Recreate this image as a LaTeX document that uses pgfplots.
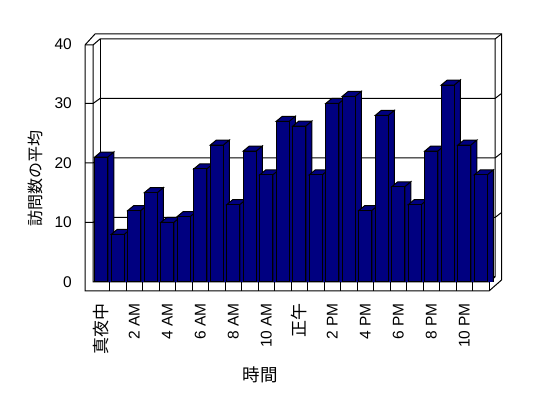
\documentclass[border=0pt]{standalone}
\usepackage{fontspec}
\setmainfont{Liberation Sans}
\newfontfamily\jp{Noto Sans CJK JP}
\usepackage{pgfplots}
\usepackage{pgfplotstable}
\pgfplotsset{compat=1.18}
\definecolor{navyb}{RGB}{0,0,128}
\pgfplotstableread{
x y
0 21
1 8
2 12
3 15
4 10
5 11
6 19
7 23
8 13
9 22
10 18
11 27
12 26.2
13 18
14 30
15 31.2
16 12
17 28
18 16
19 13
20 22
21 33.1
22 23
23 18
}\visits
% top and side faces of a 3-D column; origin = top centre of the front face
\pgfdeclareplotmark{bar3d}{%
  \pgfpathmoveto{\pgfqpoint{-6.5pt}{0pt}}%
  \pgfpathlineto{\pgfqpoint{6.5pt}{0pt}}%
  \pgfpathlineto{\pgfqpoint{12.5pt}{5pt}}%
  \pgfpathlineto{\pgfqpoint{-0.5pt}{5pt}}%
  \pgfpathclose
  \pgfpathmoveto{\pgfqpoint{6.5pt}{0pt}}%
  \pgfpathlineto{\pgfqpoint{12.5pt}{5pt}}%
  \pgfpathlineto{\pgfqpoint{12.5pt}{-400pt}}%
  \pgfpathlineto{\pgfqpoint{6.5pt}{-405pt}}%
  \pgfpathclose
  \pgfusepathqfillstroke
}
\begin{document}
\begin{tikzpicture}[line width=1pt]
\path[use as bounding box] (0,0) rectangle (548pt,398pt);
\begin{scope}[yshift=398pt, x=1pt, y=-1pt, line width=1pt]
  \foreach \v in {10,20,30} {
    \draw (85,{282-5.95*\v}) -- (93,{282-5.95*\v}) -- (100,{277-5.95*\v}) -- (495,{277-5.95*\v}) -- (501.5,{272-5.95*\v});
  }
  \draw (85,45) -- (93,45) -- (100,39) -- (495,39) -- (501.5,34);
  \draw (85,45) -- (95,34) -- (501.5,34) -- (501.5,280) -- (489,291) -- (85,291) -- cycle;
  \draw (93,45) -- (93,282) -- (489,282) -- (495,277) -- (495,39);
  \draw (100,39) -- (100,277) -- (495,277);
  \foreach \k in {1,...,24} { \draw ({93+16.5*\k},282) -- ({93+16.5*\k},291); }
\end{scope}
\begin{axis}[
  at={(93pt,116pt)}, anchor=south west,
  scale only axis, width=404.25pt, height=238pt,
  xmin=-0.5, xmax=24, ymin=0, ymax=40,
  axis line style={draw=none}, tick style={draw=none},
  ytick={0,10,20,30,40},
  xtick={0,2,...,22},
  xticklabels={{\jp\fontsize{17}{17}\selectfont 真夜中},2 AM,4 AM,6 AM,8 AM,10 AM,{\jp\fontsize{17}{17}\selectfont 正午},2 PM,4 PM,6 PM,8 PM,10 PM},
  /pgf/number format/assume math mode=true,
  yticklabel style={font=\fontsize{15.5}{15.5}\selectfont, inner sep=0pt},
  yticklabel shift=21pt,
  xticklabel style={rotate=90, anchor=east, inner sep=0pt, font=\fontsize{15.5}{15.5}\selectfont},
  xticklabel shift=21pt,
  clip marker paths=true,
]
\addplot[only marks, mark=bar3d, mark options={fill=navyb, draw=black, line width=1pt}] table[x=x,y=y] {\visits};
\addplot[ybar, bar width=13pt, bar shift=0pt, fill=navyb, draw=black, line width=1pt] table[x=x,y=y] {\visits};
\end{axis}
\node[rotate=90, font=\jp\fontsize{16}{16}\selectfont] at (35pt,219pt) {訪問数の平均};
\node[font=\jp\fontsize{17.5}{17.5}\selectfont] at (260pt,23pt) {時間};
\end{tikzpicture}
\end{document}
